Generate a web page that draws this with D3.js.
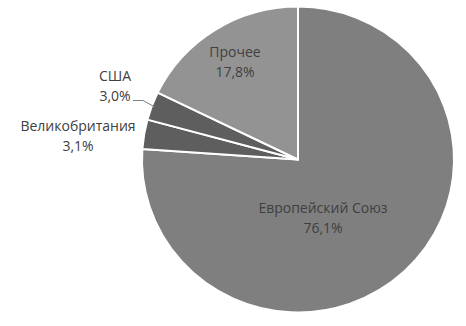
<!DOCTYPE html>
<html lang="ru">
<head>
    <meta charset="UTF-8">
    <title>Структура</title>
    <script src="https://d3js.org/d3.v7.min.js"></script>
    <style>
        body {
            margin: 0;
            padding: 0;
            background: #ffffff;
            overflow: hidden;
        }
        .label {
            font-family: "Open Sans", sans-serif;
            font-size: 14px;
            fill: #404040;
        }
    </style>
</head>
<body>
    <svg id="chart" width="466" height="326"></svg>
    <script>
        // chart data, clockwise from 12 o'clock
        const categories = ["Европейский Союз", "Великобритания", "США", "Прочее"];
        const shares = [76.1, 3.1, 3.0, 17.8];
        const shareLabels = ["76,1%", "3,1%", "3,0%", "17,8%"];
        const sliceColors = ["#7f7f7f", "#5e5e5e", "#5e5e5e", "#939393"];

        const width = 466;
        const height = 326;
        const cx = 298, cy = 159.5;
        const radius = 156;

        const svg = d3.select("#chart");

        const pie = d3.pie().sort(null).value(d => d.value);
        const arc = d3.arc().innerRadius(0).outerRadius(radius);

        const data = categories.map((c, i) => ({ name: c, value: shares[i], text: shareLabels[i], color: sliceColors[i] }));
        const arcs = pie(data);

        // slightly squashed like the original picture
        const g = svg.append("g")
            .attr("transform", `translate(${cx},${cy}) scale(1,0.98)`);

        g.selectAll("path")
            .data(arcs)
            .join("path")
            .attr("d", arc)
            .attr("fill", d => d.data.color)
            .attr("stroke", "#ffffff")
            .attr("stroke-width", 2)
            .attr("stroke-linejoin", "round");

        // label placement relative to the pie centre (where Excel put them)
        const labelOffset = {
            "Европейский Союз": [25, 53.5],
            "Великобритания": [-220, -28.5],
            "США": [-183, -78.5],
            "Прочее": [-63, -102.5]
        };

        const labels = svg.append("g");
        arcs.forEach(d => {
            const [dx, dy] = labelOffset[d.data.name];
            const t = labels.append("text")
                .attr("class", "label")
                .attr("text-anchor", "middle")
                .attr("x", cx + dx)
                .attr("y", cy + dy);
            t.append("tspan").attr("x", cx + dx).attr("dy", 0).text(d.data.name);
            t.append("tspan").attr("x", cx + dx).attr("dy", 20).text(d.data.text);
        });

        // leader line for the small USA slice
        const usa = arcs[2];
        const mid = (usa.startAngle + usa.endAngle) / 2;
        const edge = [cx + Math.sin(mid) * radius * 0.98, cy - Math.cos(mid) * radius * 0.98 * 0.98];
        const start = [cx - 165, cy - 59];
        svg.append("path")
            .attr("d", d3.line()([start, [start[0] + 10, start[1]], edge]))
            .attr("fill", "none")
            .attr("stroke", "#7f7f7f")
            .attr("stroke-width", 1);
    </script>
</body>
</html>
